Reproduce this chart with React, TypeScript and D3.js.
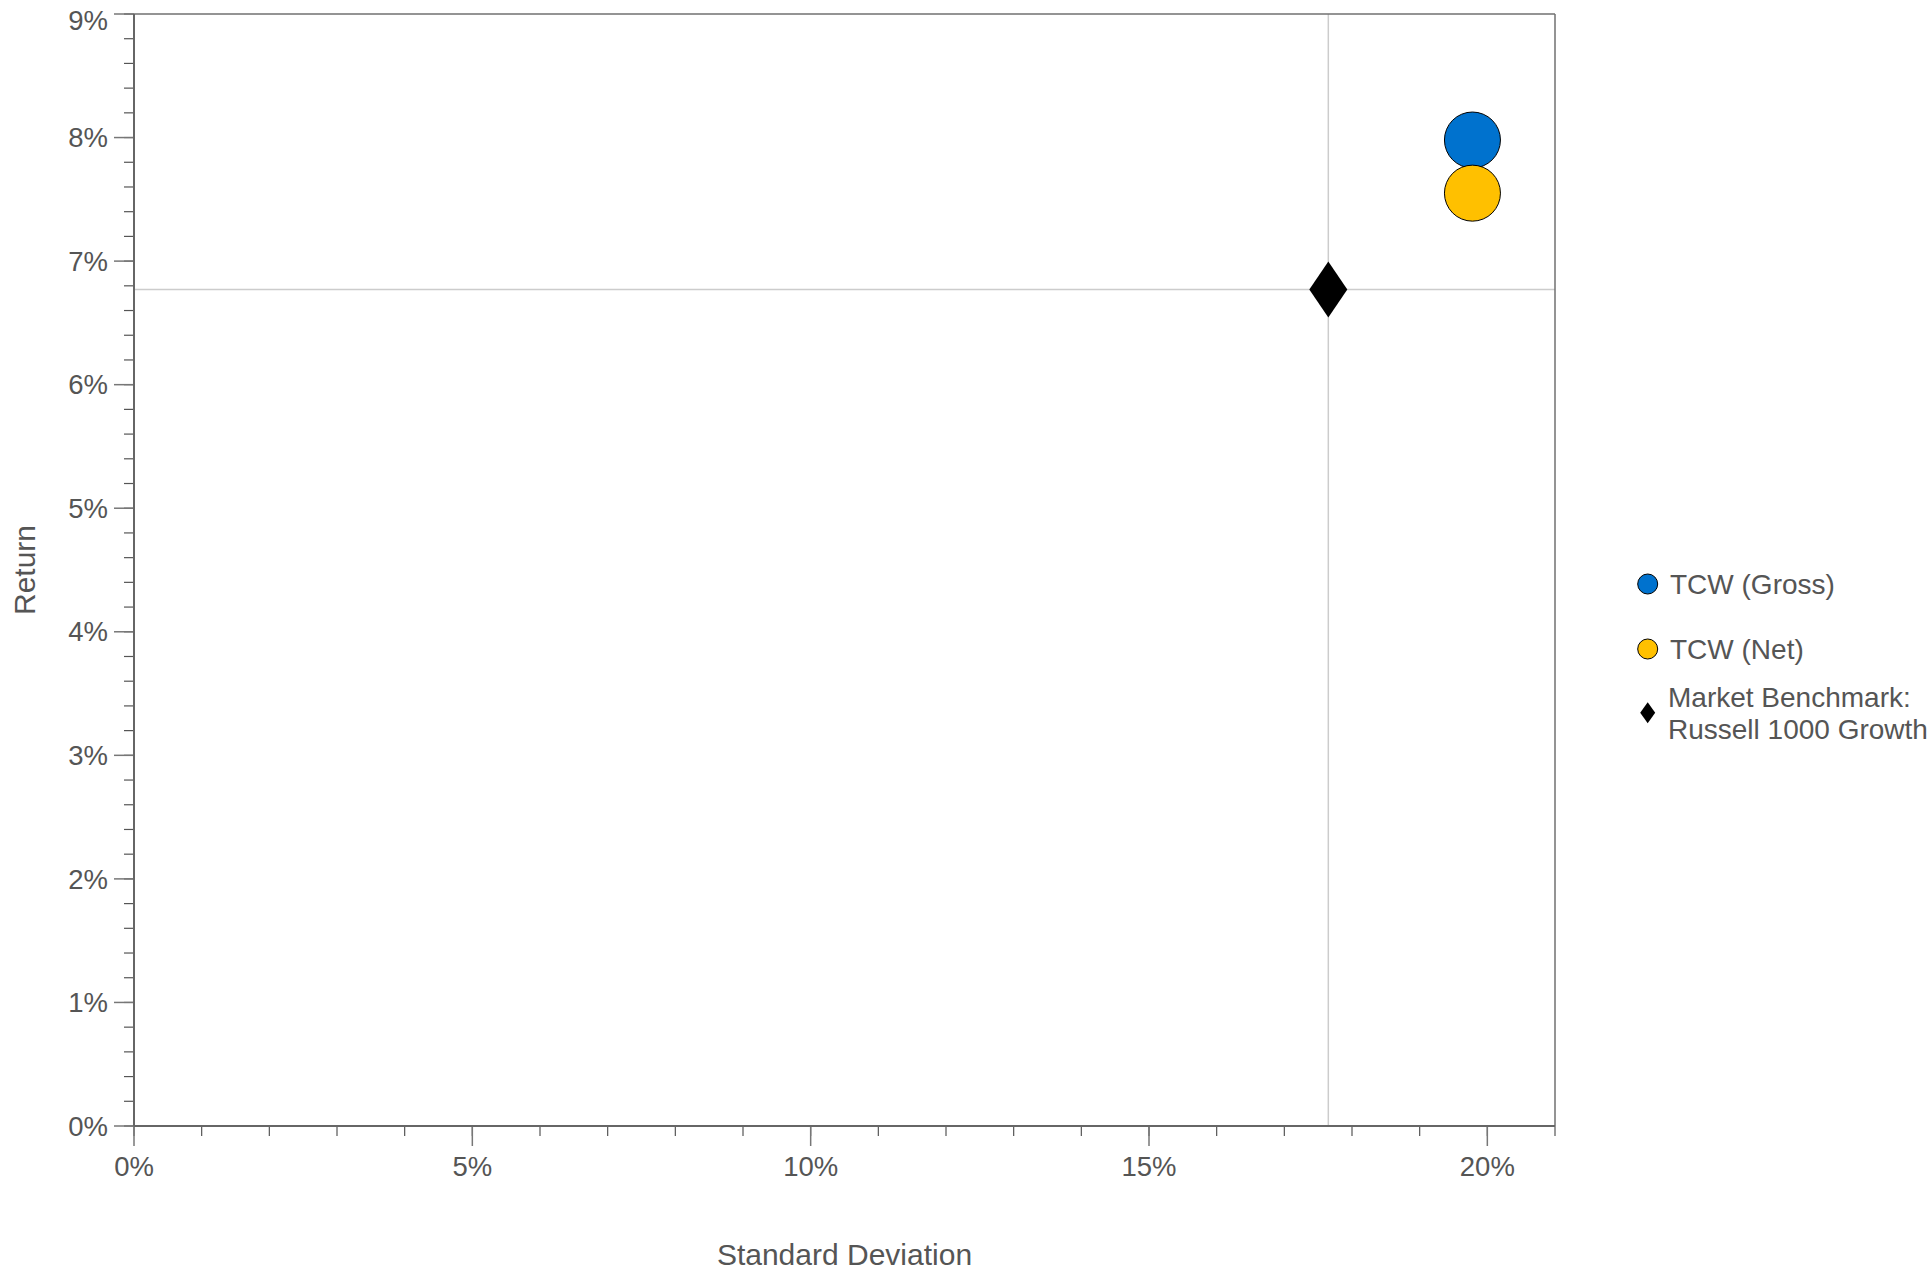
import React from "react";
import * as d3 from "d3";

const seriesNames = ["TCW (Gross)", "TCW (Net)"];
const seriesStdDev = [19.78, 19.78];
const seriesReturn = [7.98, 7.55];
const seriesColors = ["#0072CE", "#FFC000"];

const benchmarkName = ["Market Benchmark:", "Russell 1000 Growth"];
const benchmarkStdDev = 17.65;
const benchmarkReturn = 6.77;

const xMajorTicks = [0, 5, 10, 15, 20];
const xMinorTicks = d3.range(0, 22, 1);
const yMajorTicks = [0, 1, 2, 3, 4, 5, 6, 7, 8, 9];
const yMinorTicks = d3.range(0, 9.01, 0.2);

const W = 1931;
const H = 1270;
const left = 134;
const right = 1555;
const top = 14;
const bottom = 1126;

export default function App() {
  const x = d3.scaleLinear().domain([0, 21]).range([left, right]);
  const y = d3.scaleLinear().domain([0, 9]).range([bottom, top]);
  const font = "Arial, 'Liberation Sans', sans-serif";
  const textColor = "#555555";
  const axisColor = "#666666";

  const bx = x(benchmarkStdDev);
  const by = y(benchmarkReturn);
  const diamond = (cx: number, cy: number, w: number, h: number) =>
    `M${cx},${cy - h / 2}L${cx + w / 2},${cy}L${cx},${cy + h / 2}L${cx - w / 2},${cy}Z`;

  return (
    <div style={{ position: "absolute", left: 0, top: 0, width: W, height: H, background: "#fff" }}>
      <svg width={W} height={H} style={{ display: "block" }} fontFamily={font}>
        <rect x={0} y={0} width={W} height={H} fill="#fff" />
        {/* gridlines at benchmark */}
        <line x1={bx} x2={bx} y1={top} y2={bottom} stroke="#cccccc" strokeWidth={1.5} />
        <line x1={left} x2={right} y1={by} y2={by} stroke="#cccccc" strokeWidth={1.5} />
        {/* frame */}
        <line x1={left} x2={right} y1={top} y2={top} stroke="#707070" strokeWidth={1.5} />
        <line x1={right} x2={right} y1={top} y2={bottom} stroke="#707070" strokeWidth={1.5} />
        {/* y minor ticks */}
        {yMinorTicks.map((t, i) => (
          <line key={"ym" + i} x1={left - 10} x2={left} y1={y(t)} y2={y(t)} stroke="#555" strokeWidth={1.2} />
        ))}
        {yMajorTicks.map((t) => (
          <g key={"yM" + t}>
            <line x1={left - 20} x2={left} y1={y(t)} y2={y(t)} stroke="#777" strokeWidth={1.5} />
            <text
              x={left - 26}
              y={Math.max(y(t), top + 6)}
              dy="0.35em"
              textAnchor="end"
              fontSize={27.5}
              fill={textColor}
            >
              {t}%
            </text>
          </g>
        ))}
        {/* x minor ticks */}
        {xMinorTicks.map((t) => (
          <line key={"xm" + t} x1={x(t)} x2={x(t)} y1={bottom} y2={bottom + 10} stroke="#555" strokeWidth={1.2} />
        ))}
        {xMajorTicks.map((t) => (
          <g key={"xM" + t}>
            <line x1={x(t)} x2={x(t)} y1={bottom} y2={bottom + 20} stroke="#777" strokeWidth={1.5} />
            <text x={x(t)} y={1176} textAnchor="middle" fontSize={27.5} fill={textColor}>
              {t}%
            </text>
          </g>
        ))}
        {/* axes */}
        <line x1={left} x2={left} y1={top} y2={bottom} stroke={axisColor} strokeWidth={2} />
        <line x1={left} x2={right} y1={bottom} y2={bottom} stroke={axisColor} strokeWidth={2} />
        {/* axis titles */}
        <text x={(left + right) / 2} y={1265} textAnchor="middle" fontSize={30} fill={textColor}>
          Standard Deviation
        </text>
        <text
          transform={`translate(35, ${(top + bottom) / 2}) rotate(-90)`}
          textAnchor="middle"
          fontSize={30}
          fill={textColor}
        >
          Return
        </text>
        {/* benchmark */}
        <path d={diamond(bx, by, 38, 56)} fill="#000" />
        {/* series */}
        {seriesNames.map((n, i) => (
          <circle
            key={n}
            cx={x(seriesStdDev[i])}
            cy={y(seriesReturn[i])}
            r={28}
            fill={seriesColors[i]}
            stroke="#000"
            strokeWidth={1}
          />
        ))}
        {/* legend */}
        {seriesNames.map((n, i) => (
          <g key={"lg" + n}>
            <circle cx={1647.7} cy={584 + i * 65} r={10} fill={seriesColors[i]} stroke="#000" strokeWidth={1} />
            <text x={1670} y={594 + i * 65} fontSize={28} fill={textColor}>
              {n}
            </text>
          </g>
        ))}
        <path d={diamond(1647.7, 712.7, 15, 21)} fill="#000" />
        {benchmarkName.map((line, i) => (
          <text key={line} x={1668} y={707 + i * 32} fontSize={28} fill={textColor}>
            {line}
          </text>
        ))}
      </svg>
    </div>
  );
}
